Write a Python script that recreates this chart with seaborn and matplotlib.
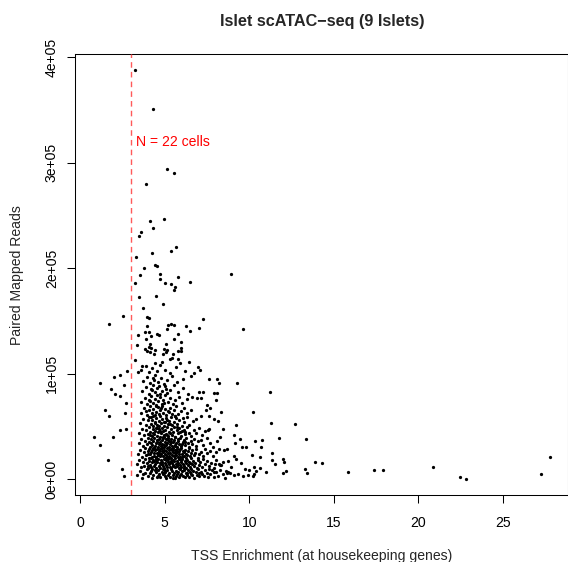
"""
Islet scATAC-seq QC scatter: TSS enrichment vs paired mapped reads.
"""

import matplotlib
matplotlib.use("Agg")
import numpy as np
import pandas as pd
import matplotlib.pyplot as plt
import seaborn as sns

# (TSS enrichment, paired mapped reads in thousands)

# cells left of the TSS cutoff (N = 22)
low_tss_cells = [
    (2.55, 154.5), (1.72, 146.9), (1.17, 91.3), (2.01, 97.0), (2.37, 98.6), (2.74, 102.4),
    (1.80, 85.6), (2.60, 89.7), (2.04, 80.6), (2.37, 79.0), (2.70, 72.0), (1.44, 65.4),
    (1.68, 60.0), (2.37, 46.4), (2.72, 47.4), (0.79, 40.1), (1.95, 40.1), (1.18, 32.5),
    (1.66, 18.3), (2.49, 9.5), (2.59, 2.8), (2.64, 62.9),
]

# sparse cells with many reads
upper_cells = [
    (3.22, 387.7), (4.32, 350.8), (5.15, 294.2), (5.56, 290.1), (3.87, 279.7), (4.93, 246.5),
    (4.14, 244.6), (4.32, 237.9), (3.59, 234.2), (3.49, 230.4), (5.68, 220.2), (5.38, 216.1),
    (3.30, 210.7), (4.24, 214.2), (4.42, 203.4), (4.54, 202.2), (3.77, 200.0), (8.94, 194.6),
    (3.55, 193.4), (4.73, 194.6), (5.78, 191.5), (4.73, 189.6), (3.25, 185.8), (4.99, 185.8),
    (5.37, 184.9), (6.47, 186.8), (5.59, 182.0), (5.53, 179.2), (3.47, 172.5), (4.48, 173.8),
    (4.88, 166.2), (3.69, 162.1), (3.96, 153.6), (4.07, 152.6), (7.28, 151.7), (9.65, 142.5),
    (3.95, 145.0), (5.21, 146.0), (5.35, 146.9), (5.53, 146.0), (6.24, 145.0), (5.15, 142.2),
    (7.00, 143.1), (6.47, 140.6), (3.85, 139.3), (4.08, 139.3), (4.52, 137.5), (4.66, 136.8),
    (5.76, 137.5), (3.41, 136.5), (4.18, 135.6), (3.91, 132.7), (5.54, 132.7), (5.96, 129.9),
    (4.11, 128.0), (5.05, 128.0), (3.34, 127.0), (4.08, 125.4), (4.20, 124.8), (3.83, 123.5),
    (4.97, 123.8), (5.11, 122.9), (5.96, 124.2), (4.42, 122.6), (3.95, 121.3), (5.78, 121.6),
    (5.98, 121.3), (4.12, 120.4), (5.07, 121.0), (4.36, 118.5), (4.89, 118.8), (5.49, 119.1),
    (5.31, 114.3), (5.44, 115.3), (5.78, 114.0), (3.24, 113.1), (5.90, 110.5), (6.43, 111.2),
    (4.40, 110.5), (4.82, 110.9), (6.98, 106.5), (7.10, 103.3), (7.62, 95.1), (8.07, 95.1),
    (8.21, 91.0), (9.27, 91.0), (3.67, 107.4), (3.43, 101.4),
]

# cells with high TSS enrichment
right_tail_cells = [
    (11.22, 82.5), (10.24, 63.5), (9.23, 51.2), (11.28, 53.1), (12.69, 52.1), (9.09, 41.7),
    (9.47, 37.9), (9.15, 34.1), (10.36, 36.0), (10.77, 37.0), (11.78, 38.9), (13.36, 37.9),
    (9.59, 30.3), (9.80, 30.3), (10.67, 30.3), (9.09, 22.1), (9.21, 19.2), (10.18, 22.7),
    (10.62, 20.9), (11.36, 24.6), (11.34, 18.0), (11.97, 19.0), (12.07, 16.1), (11.54, 14.2),
    (13.87, 16.1), (14.32, 15.2), (20.87, 11.4), (27.81, 20.9), (27.24, 4.7), (22.49, 1.9),
    (22.82, 0.3), (15.82, 6.6), (17.40, 8.5), (17.93, 8.5), (13.30, 9.5), (13.40, 5.7),
    (12.01, 5.7), (12.15, 7.6), (10.97, 7.2), (10.28, 11.4), (10.40, 8.2), (9.98, 8.5),
    (9.73, 9.5), (9.49, 15.2), (10.63, 10.4), (10.24, 3.4), (10.30, 5.0), (9.61, 3.4),
    (9.35, 5.0), (9.11, 4.1), (8.92, 12.0), (8.86, 6.3), (9.90, 4.1),
    (7.26, 83.0), (7.02, 82.7), (7.93, 81.8), (8.09, 81.5), (8.03, 75.2), (6.89, 77.4),
    (7.16, 76.8), (7.50, 70.4), (7.67, 67.9), (7.44, 65.7), (8.33, 63.5), (7.12, 60.0),
    (7.63, 59.7), (7.89, 57.5), (8.17, 55.3), (8.46, 47.7), (7.57, 46.7), (8.25, 40.1),
    (8.70, 28.7), (8.50, 27.5), (8.76, 17.3), (8.21, 14.2), (8.68, 5.7), (8.60, 7.9),
    (7.89, 7.2), (7.63, 9.5), (7.97, 14.8), (8.33, 13.6),
]

# dense core of the distribution
core_cells = [
    # 0-10k
    (3.35, 4.2), (3.52, 8.1), (3.68, 1.6), (3.81, 6.3), (3.95, 9.4), (4.02, 2.9), (4.11, 5.5),
    (4.18, 7.8), (4.26, 1.2), (4.33, 3.9), (4.41, 9.1), (4.47, 6.6), (4.55, 2.3), (4.62, 8.4),
    (4.68, 4.7), (4.74, 1.9), (4.81, 7.1), (4.87, 5.2), (4.93, 9.7), (4.99, 3.3), (5.04, 6.8),
    (5.10, 1.4), (5.16, 8.9), (5.21, 4.1), (5.27, 6.0), (5.33, 2.6), (5.38, 9.3), (5.44, 7.4),
    (5.50, 3.6), (5.55, 5.8), (5.61, 1.1), (5.66, 8.2), (5.72, 4.9), (5.78, 6.9), (5.84, 2.2),
    (5.90, 9.8), (5.95, 5.1), (6.01, 7.6), (6.07, 3.0), (6.13, 8.7), (6.19, 1.7), (6.24, 6.2),
    (6.30, 4.4), (6.36, 9.0), (6.42, 2.5), (6.49, 7.3), (6.55, 5.4), (6.61, 3.8), (6.68, 8.0),
    (6.75, 1.3), (6.82, 6.5), (6.90, 4.0), (6.97, 9.5), (7.05, 2.8), (7.13, 7.0), (7.21, 5.0),
    (7.30, 3.2), (7.39, 8.6), (7.48, 6.1), (7.57, 1.8), (7.67, 4.6), (7.78, 9.2), (7.89, 2.1),
    (8.01, 6.7), (8.13, 3.5), (8.27, 8.3), (8.42, 5.3), (8.58, 1.5), (8.75, 7.2), (3.72, 5.0),
    (4.58, 3.1), (5.02, 7.9), (5.47, 1.0), (5.93, 4.3), (6.33, 6.4), (4.22, 9.9), (4.96, 5.6),
    (5.69, 3.4), (6.58, 9.6), (7.01, 5.9),
    # 10-20k
    (3.38, 14.6), (3.49, 18.2), (3.61, 11.3), (3.70, 16.8), (3.79, 12.9), (3.86, 19.4),
    (3.93, 15.1), (3.99, 10.7), (4.05, 17.5), (4.10, 13.4), (4.16, 19.9), (4.21, 11.8),
    (4.27, 15.9), (4.32, 18.7), (4.37, 12.2), (4.42, 14.3), (4.46, 17.0), (4.51, 10.4),
    (4.56, 16.1), (4.60, 19.2), (4.64, 13.0), (4.69, 15.5), (4.73, 11.1), (4.77, 18.0),
    (4.82, 14.0), (4.86, 16.6), (4.90, 12.5), (4.94, 19.6), (4.98, 10.9), (5.02, 15.2),
    (5.06, 17.8), (5.10, 13.7), (5.14, 11.5), (5.18, 16.4), (5.22, 19.0), (5.26, 14.8),
    (5.30, 12.0), (5.34, 17.3), (5.38, 10.2), (5.42, 15.7), (5.46, 18.5), (5.50, 13.2),
    (5.54, 16.9), (5.58, 11.7), (5.62, 19.7), (5.66, 14.5), (5.70, 12.7), (5.74, 17.6),
    (5.78, 15.0), (5.82, 10.6), (5.86, 18.9), (5.90, 13.9), (5.95, 16.3), (5.99, 11.9),
    (6.04, 19.3), (6.08, 14.7), (6.13, 12.3), (6.18, 17.1), (6.23, 15.4), (6.28, 10.3),
    (6.33, 18.4), (6.38, 13.5), (6.43, 16.0), (6.49, 11.4), (6.55, 19.8), (6.61, 14.1),
    (6.67, 17.7), (6.74, 12.6), (6.81, 15.8), (6.88, 10.8), (6.95, 18.6), (7.03, 13.8),
    (7.11, 16.5), (7.20, 11.2), (7.29, 19.1), (7.39, 14.4), (7.50, 17.4), (7.62, 12.4),
    (7.75, 15.6), (7.90, 10.5), (8.06, 18.1), (8.24, 13.1), (8.45, 16.2), (4.03, 12.1),
    (4.49, 18.9), (4.89, 10.1), (5.29, 16.7), (5.72, 13.3), (6.15, 11.0), (6.52, 15.3),
    (4.75, 14.9), (5.48, 12.8), (5.97, 17.9), (4.35, 16.9), (5.12, 19.5),
    # 20-30k
    (3.42, 24.1), (3.55, 27.8), (3.66, 21.5), (3.76, 25.9), (3.84, 29.3), (3.91, 22.7),
    (3.98, 26.6), (4.04, 20.4), (4.09, 28.5), (4.14, 23.6), (4.19, 26.1), (4.24, 21.2),
    (4.29, 29.7), (4.34, 24.8), (4.39, 22.3), (4.43, 27.4), (4.48, 20.9), (4.52, 25.3),
    (4.57, 28.9), (4.61, 23.0), (4.65, 26.9), (4.70, 21.8), (4.74, 29.1), (4.78, 24.4),
    (4.83, 27.1), (4.87, 22.0), (4.91, 25.6), (4.95, 28.2), (4.99, 20.6), (5.03, 23.9),
    (5.07, 26.4), (5.11, 29.5), (5.15, 21.4), (5.19, 24.7), (5.23, 27.6), (5.27, 22.5),
    (5.31, 25.1), (5.35, 28.7), (5.39, 20.2), (5.43, 23.3), (5.47, 26.2), (5.51, 29.9),
    (5.55, 21.9), (5.59, 24.9), (5.63, 27.3), (5.67, 22.8), (5.71, 25.5), (5.75, 28.4),
    (5.79, 20.8), (5.83, 23.7), (5.87, 26.8), (5.92, 21.1), (5.96, 29.2), (6.01, 24.2),
    (6.06, 27.0), (6.11, 22.2), (6.16, 25.8), (6.21, 28.1), (6.27, 20.5), (6.32, 23.4),
    (6.38, 26.5), (6.44, 29.6), (6.50, 21.6), (6.57, 24.6), (6.64, 27.7), (6.71, 22.9),
    (6.79, 25.2), (6.87, 28.8), (6.96, 20.3), (7.05, 23.8), (7.15, 26.3), (7.26, 21.7),
    (7.38, 29.0), (7.52, 24.5), (7.67, 27.2), (7.84, 22.4), (8.02, 25.7), (8.22, 28.3),
    (4.01, 24.0), (4.46, 21.3), (4.86, 29.4), (5.25, 20.1), (5.65, 26.0), (6.04, 20.7),
    (4.27, 27.9), (5.09, 23.1), (5.91, 28.6), (4.68, 25.0), (5.42, 27.5), (6.24, 24.3),
    # 30-40k
    (3.45, 34.2), (3.60, 38.1), (3.73, 31.4), (3.83, 36.7), (3.92, 33.0), (4.00, 39.5),
    (4.07, 35.3), (4.13, 30.6), (4.20, 37.9), (4.26, 32.7), (4.31, 36.0), (4.37, 39.1),
    (4.42, 31.1), (4.47, 34.8), (4.53, 37.4), (4.58, 30.2), (4.63, 33.6), (4.68, 38.6),
    (4.72, 35.7), (4.77, 31.8), (4.82, 36.9), (4.86, 33.3), (4.91, 39.8), (4.95, 30.9),
    (5.00, 35.0), (5.05, 37.7), (5.09, 32.2), (5.14, 34.5), (5.19, 39.3), (5.23, 30.4),
    (5.28, 36.3), (5.33, 33.8), (5.38, 38.3), (5.43, 31.6), (5.48, 35.6), (5.53, 37.1),
    (5.58, 32.9), (5.63, 39.7), (5.68, 34.1), (5.74, 30.8), (5.80, 36.6), (5.86, 33.1),
    (5.92, 38.8), (5.98, 31.3), (6.05, 35.4), (6.12, 37.6), (6.19, 32.4), (6.27, 39.0),
    (6.35, 34.7), (6.44, 30.3), (6.53, 36.2), (6.63, 33.5), (6.74, 38.4), (6.86, 31.9),
    (6.99, 35.9), (7.13, 37.3), (7.29, 32.6), (7.47, 39.4), (7.66, 34.4), (7.88, 31.0),
    (8.10, 36.4), (4.16, 33.9), (4.55, 35.5), (4.98, 32.5), (5.36, 35.2), (5.77, 38.0),
    (6.21, 34.9), (4.39, 30.1), (5.21, 37.0), (6.00, 33.2), (4.89, 38.9), (5.60, 31.2),
    # 40-50k
    (3.50, 44.3), (3.68, 48.1), (3.80, 41.5), (3.90, 46.7), (3.99, 43.0), (4.07, 49.4),
    (4.15, 45.2), (4.22, 40.7), (4.29, 47.6), (4.36, 42.6), (4.43, 45.9), (4.49, 49.0),
    (4.56, 41.2), (4.62, 44.6), (4.68, 47.3), (4.74, 40.3), (4.80, 43.7), (4.86, 48.5),
    (4.92, 45.5), (4.98, 41.8), (5.04, 46.8), (5.10, 43.3), (5.16, 49.7), (5.22, 40.9),
    (5.28, 44.9), (5.35, 47.8), (5.42, 42.2), (5.49, 45.1), (5.56, 49.2), (5.63, 40.5),
    (5.70, 46.3), (5.78, 43.6), (5.86, 48.2), (5.94, 41.4), (6.03, 45.7), (6.12, 47.1),
    (6.22, 42.9), (6.33, 49.6), (6.45, 44.1), (6.58, 40.8), (6.72, 46.5), (6.87, 43.4),
    (7.03, 48.4), (7.21, 41.9), (7.41, 45.4), (7.63, 47.9), (4.10, 42.0), (4.53, 48.8),
    (4.95, 40.1), (5.32, 43.9), (5.74, 49.9), (6.17, 45.0), (4.71, 46.1), (5.13, 42.4),
    (5.91, 44.4), (4.33, 44.0),
    # 50-60k
    (3.55, 53.6), (3.74, 57.4), (3.87, 51.2), (3.98, 55.8), (4.08, 59.1), (4.17, 52.5),
    (4.25, 56.6), (4.33, 50.4), (4.41, 54.2), (4.48, 58.3), (4.56, 51.9), (4.63, 55.1),
    (4.71, 59.6), (4.78, 53.0), (4.86, 56.9), (4.93, 50.8), (5.01, 54.7), (5.09, 58.0),
    (5.17, 52.2), (5.26, 55.5), (5.35, 59.3), (5.44, 51.5), (5.54, 54.0), (5.64, 57.7),
    (5.75, 52.8), (5.87, 56.2), (6.00, 50.6), (6.14, 54.4), (6.29, 58.6), (6.46, 51.7),
    (6.65, 55.3), (6.86, 57.1), (4.21, 58.9), (4.67, 50.2), (5.13, 56.4), (5.58, 59.8),
    (4.45, 53.3), (5.30, 52.0), (6.07, 57.9), (4.95, 53.9),
    # 60-70k
    (3.58, 63.2), (3.79, 67.5), (3.93, 61.1), (4.05, 65.8), (4.15, 69.2), (4.24, 62.4),
    (4.33, 66.3), (4.42, 60.5), (4.50, 64.0), (4.58, 68.4), (4.66, 61.8), (4.74, 65.2),
    (4.83, 69.7), (4.91, 63.0), (5.00, 66.9), (5.09, 60.8), (5.19, 64.6), (5.29, 68.0),
    (5.40, 62.1), (5.52, 65.5), (5.65, 69.0), (5.79, 61.5), (5.95, 64.3), (6.13, 67.7),
    (6.33, 62.7), (6.56, 66.0), (4.28, 60.2), (4.79, 67.1), (5.24, 63.6), (4.46, 69.5),
    (3.88, 64.8), (5.60, 60.3),
    # 70-80k
    (3.62, 73.5), (3.84, 77.2), (3.97, 71.0), (4.09, 75.6), (4.20, 79.1), (4.30, 72.3),
    (4.40, 76.4), (4.50, 70.6), (4.60, 74.1), (4.70, 78.3), (4.81, 71.8), (4.92, 75.0),
    (5.04, 79.5), (5.17, 73.0), (5.31, 76.8), (5.46, 70.9), (5.63, 74.7), (5.82, 78.0),
    (6.04, 72.1), (6.30, 75.9), (4.14, 73.8), (4.56, 79.8), (4.98, 72.6), (6.60, 77.5),
    # 80-90k
    (3.66, 83.4), (3.90, 87.1), (4.04, 81.2), (4.18, 85.5), (4.31, 89.0), (4.44, 82.6),
    (4.57, 86.3), (4.70, 80.5), (4.84, 84.0), (4.99, 88.2), (5.15, 81.7), (5.33, 85.0),
    (5.53, 89.4), (5.77, 82.9), (6.05, 86.7), (6.40, 80.9), (4.25, 84.5), (4.63, 88.8),
    (5.06, 86.0),
    # 90-110k
    (3.70, 93.2), (3.95, 97.4), (4.12, 91.0), (4.28, 95.6), (4.43, 99.1), (4.59, 92.5),
    (4.76, 96.2), (4.95, 90.6), (5.16, 94.1), (5.40, 98.0), (5.70, 91.8), (6.08, 95.0),
    (4.36, 93.7), (6.55, 97.6), (3.58, 103.5), (3.89, 107.2), (4.06, 101.4), (4.27, 105.3),
    (4.55, 102.2), (4.71, 108.6), (5.02, 104.0), (5.33, 101.0), (5.67, 106.1), (6.20, 103.0),
    (6.74, 100.8),
]

TSS_CUTOFF = 3
Y_TICKS = [0, 100000, 200000, 300000, 400000]
Y_TICK_LABELS = ["0e+00", "1e+05", "2e+05", "3e+05", "4e+05"]
X_TICKS = [0, 5, 10, 15, 20, 25]

cells = pd.DataFrame(
    low_tss_cells + core_cells + upper_cells + right_tail_cells,
    columns=["tss", "reads_k"],
)
cells["reads"] = cells["reads_k"] * 1000

sns.set_style("ticks")
plt.rcParams["font.family"] = ["Liberation Sans", "DejaVu Sans"]
plt.rcParams["axes.unicode_minus"] = False

fig = plt.figure(figsize=(5.68, 5.62), dpi=100)
ax = fig.add_axes([0.1327, 0.1187, 0.8681, 0.7854])

sns.scatterplot(
    data=cells, x="tss", y="reads", color="black", s=5.5, linewidth=0, ax=ax
)

# TSS cutoff
ax.axvline(TSS_CUTOFF, color="#ff5a5a", lw=1.0, dashes=(4, 3), zorder=3)
n_low = int((cells["tss"] < TSS_CUTOFF).sum())
ax.text(3.3, 320000, f"N = {n_low} cells", color="red", fontsize=10.1,
        ha="left", va="center")

ax.set_xlim(-0.29, 28.89)
ax.set_ylim(-15200, 403200)
ax.set_xticks(X_TICKS)
ax.set_xticklabels([str(t) for t in X_TICKS])
ax.set_yticks(Y_TICKS)
ax.set_yticklabels(Y_TICK_LABELS, rotation=90, va="center")

ax.tick_params(axis="both", length=6.1, width=0.75, color="black",
               labelsize=10.1, labelcolor="black")
ax.tick_params(axis="x", pad=8.6)
ax.tick_params(axis="y", pad=5.7)
for spine in ax.spines.values():
    spine.set_visible(True)
    spine.set_linewidth(0.75)
    spine.set_color("black")

ax.set_xlabel("TSS Enrichment (at housekeeping genes)", fontsize=10.1, labelpad=14.2)
ax.set_ylabel("Paired Mapped Reads", fontsize=10.1, labelpad=14.9)
ax.set_title("Islet scATAC\u2212seq (9 Islets)", fontsize=11.7, fontweight="bold", pad=20.4)

fig.savefig("out.png", dpi=100)
plt.close(fig)
